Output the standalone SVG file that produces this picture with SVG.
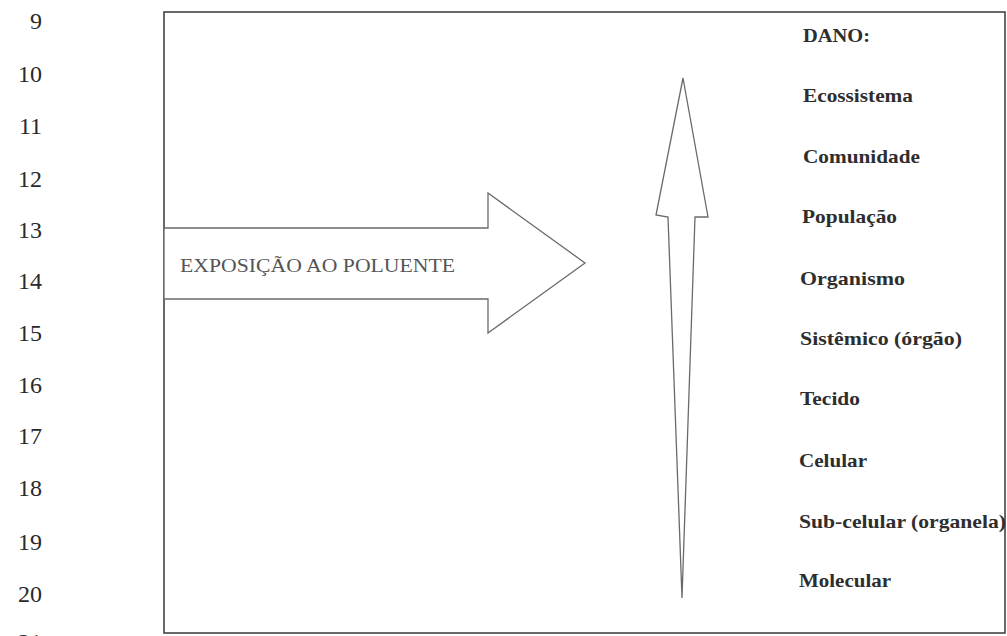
<svg xmlns="http://www.w3.org/2000/svg" width="1007" height="636" viewBox="0 0 1007 636">
<style>
.ln{font-family:"Liberation Serif","Times New Roman",serif;font-size:24px;fill:#2a2a2a;text-anchor:end}
.lbl{font-family:"Liberation Serif","Times New Roman",serif;font-size:19px;font-weight:bold;fill:#2e2e2e}
.exp{font-family:"Liberation Serif","Times New Roman",serif;font-size:19px;fill:#555}
.shape{fill:#fff;stroke:#6a6a6a;stroke-width:1.3;stroke-linejoin:miter}
</style>
<rect width="1007" height="636" fill="#fff"/>
<g id="line-numbers">
<text class="ln" x="42" y="29">9</text>
<text class="ln" x="42" y="82">10</text>
<text class="ln" x="42" y="134">11</text>
<text class="ln" x="42" y="187">12</text>
<text class="ln" x="42" y="238">13</text>
<text class="ln" x="42" y="289">14</text>
<text class="ln" x="42" y="341">15</text>
<text class="ln" x="42" y="393">16</text>
<text class="ln" x="42" y="444">17</text>
<text class="ln" x="42" y="496">18</text>
<text class="ln" x="42" y="550">19</text>
<text class="ln" x="42" y="602">20</text>
<text class="ln" x="42" y="650">21</text>
</g>
<g id="frame">
<rect x="164" y="12" width="841" height="621" fill="none" stroke="#444" stroke-width="1.6"/>
</g>
<g id="exposure-arrow">
<polygon class="shape" points="164,228 488,228 488,193 585,263 488,333 488,299 164,299"/>
<text class="exp" x="180" y="272" textLength="275" lengthAdjust="spacingAndGlyphs">EXPOSIÇÃO AO POLUENTE</text>
</g>
<g id="connectors">
<polygon id="damage-arrow" class="shape" points="683,78 708,217 695,217 682,598 668,217 656,215"/>
</g>
<g id="labels">
<text class="lbl" x="803" y="42" textLength="67" lengthAdjust="spacingAndGlyphs">DANO:</text>
<text class="lbl" x="803" y="102" textLength="110" lengthAdjust="spacingAndGlyphs">Ecossistema</text>
<text class="lbl" x="803" y="163" textLength="117" lengthAdjust="spacingAndGlyphs">Comunidade</text>
<text class="lbl" x="802" y="223" textLength="95" lengthAdjust="spacingAndGlyphs">População</text>
<text class="lbl" x="800" y="285" textLength="105" lengthAdjust="spacingAndGlyphs">Organismo</text>
<text class="lbl" x="800" y="345" textLength="162" lengthAdjust="spacingAndGlyphs">Sistêmico (órgão)</text>
<text class="lbl" x="800" y="405" textLength="60" lengthAdjust="spacingAndGlyphs">Tecido</text>
<text class="lbl" x="799" y="467" textLength="68" lengthAdjust="spacingAndGlyphs">Celular</text>
<text class="lbl" x="799" y="528" textLength="207" lengthAdjust="spacingAndGlyphs">Sub-celular (organela)</text>
<text class="lbl" x="799" y="587" textLength="92" lengthAdjust="spacingAndGlyphs">Molecular</text>
</g>
</svg>
